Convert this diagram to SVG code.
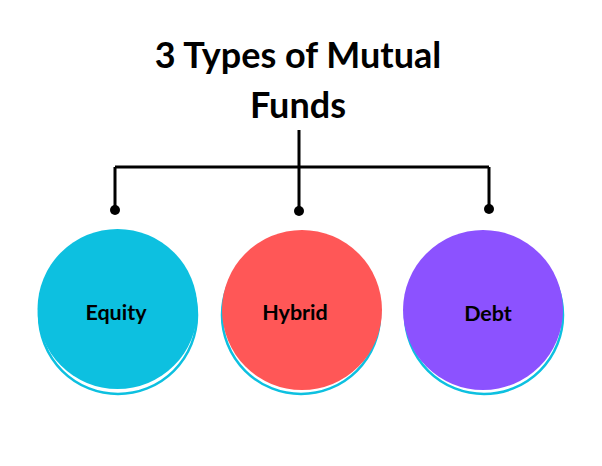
<svg xmlns="http://www.w3.org/2000/svg" width="602" height="466" viewBox="0 0 602 466">
<style>
.title{font-family:Lato,"Open Sans",sans-serif;font-weight:700;font-size:36px;fill:#000;text-anchor:middle}
.lbl{font-family:Lato,"Open Sans",sans-serif;font-weight:700;font-size:21.5px;fill:#000;text-anchor:middle}
.ring{fill:none;stroke:#0DC0E0;stroke-width:2.5}
.ln{fill:none;stroke:#000;stroke-width:3}
</style>
<rect width="602" height="466" fill="#fff"/>
<g id="title">
<text class="title" x="298" y="68">3 Types of Mutual</text>
<text class="title" x="298" y="118">Funds</text>
</g>
<g id="connectors">
<path class="ln" d="M299 130 V210 M115 167 H489 M115 167 V208 M489 167 V208"/>
<circle cx="115" cy="210" r="5" fill="#000"/>
<circle cx="299" cy="211" r="5" fill="#000"/>
<circle cx="489" cy="209" r="5" fill="#000"/>
</g>
<g id="equity">
<circle class="ring" cx="118" cy="315" r="79"/>
<circle cx="117.5" cy="309" r="80" fill="#0DC0E0"/>
<text class="lbl" x="116" y="320">Equity</text>
</g>
<g id="hybrid">
<circle class="ring" cx="301" cy="315" r="79"/>
<circle cx="302" cy="310" r="80" fill="#FF5757"/>
<text class="lbl" x="295" y="320">Hybrid</text>
</g>
<g id="debt">
<circle class="ring" cx="484" cy="315" r="79"/>
<circle cx="483" cy="310" r="80" fill="#8C52FF"/>
<text class="lbl" x="488" y="321">Debt</text>
</g>
</svg>
